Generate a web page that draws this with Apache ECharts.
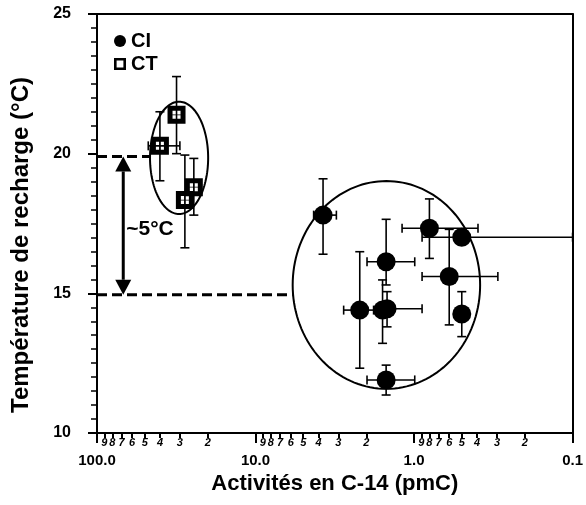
<!DOCTYPE html>
<html>
<head>
<meta charset="utf-8">
<script src="https://cdn.jsdelivr.net/npm/echarts@6/dist/echarts.min.js"></script>
<style>
  html, body { margin: 0; padding: 0; background: #fff; }
  #chart { width: 586px; height: 505px; }
</style>
</head>
<body>
<div id="chart"></div>
<script>
// CI samples: C-14 activity (pmC) and recharge temperature (°C), with uncertainty ranges
const ciActivity     = [3.75, 1.5,  2.2,   1.58,  1.48, 1.5,   0.8,   0.5,  0.6,   0.5];
const ciTemp         = [17.8, 16.13, 14.4, 14.4,  14.45, 11.9, 17.33, 17.01, 15.6, 14.26];
const ciActivityHigh = [4.3,  1.98, 2.78,  null,  1.7,  1.98,  1.19,  0.89, 0.89,  null];
const ciActivityLow  = [3.09, 0.99, 1.8,   null,  0.89, 0.99,  0.395, 0.1,  0.296, null];
const ciTempLow      = [16.4, 15.3, 12.32, 13.21, 13.8, 11.36, 16.25, null, 13.87, 13.45];
const ciTempHigh     = [19.1, 17.65, 16.49, 15.48, 15.06, 12.43, 18.38, null, 17.29, 15.06];

// CT samples
const ctActivity     = [31.5, 40.1, 24.5, 27.9];
const ctTemp         = [21.39, 20.28, 18.8, 18.34];
const ctActivityHigh = [null, 47.5, null, null];
const ctActivityLow  = [null, 30.0, null, null];
const ctTempLow      = [20.0, 19.03, 17.8, 16.63];
const ctTempHigh     = [22.76, 21.5, 19.83, 19.95];

// Sample groupings: [left pmC, right pmC, bottom °C, top °C]
const groupCT = [46.3, 19.9, 17.84, 21.86];
const groupCI = [5.83, 0.383, 11.58, 19.02];

// Recharge temperature level of each group and the gap between them
const levelCT = 19.9;
const levelCI = 14.95;
const gapLabel = '~5°C';
const gapArrowActivity = 68.3;

// Axis ticks
const majorTicks = [100, 10, 1, 0.1];
const minorTicks = [90, 80, 70, 60, 50, 40, 30, 20,
                    9, 8, 7, 6, 5, 4, 3, 2,
                    0.9, 0.8, 0.7, 0.6, 0.5, 0.4, 0.3, 0.2];
const tempTicks = { min: 10, max: 25, step: 5 };

const FONT = '"Liberation Sans", Arial, Helvetica, sans-serif';
const INK = '#000';

const rows = (xs, ys, xh, xl, yl, yh) =>
  xs.map((x, i) => [x, ys[i], xh[i], xl[i], yl[i], yh[i]]);

function errorBars(params, api) {
  const x = api.value(0), y = api.value(1);
  const xh = api.value(2), xl = api.value(3), yl = api.value(4), yh = api.value(5);
  const style = { stroke: INK, lineWidth: 1.6 };
  const cap = 4.5;
  const out = [];
  const seg = (x1, y1, x2, y2) => out.push({ type: 'line', shape: { x1, y1, x2, y2 }, style });
  if (!isNaN(yl) && !isNaN(yh)) {
    const a = api.coord([x, yl]), b = api.coord([x, yh]);
    seg(a[0], a[1], b[0], b[1]);
    seg(a[0] - cap, a[1], a[0] + cap, a[1]);
    seg(b[0] - cap, b[1], b[0] + cap, b[1]);
  }
  if (!isNaN(xl) && !isNaN(xh)) {
    const a = api.coord([xh, y]), b = api.coord([xl, y]);
    seg(a[0], a[1], b[0], b[1]);
    seg(a[0], a[1] - cap, a[0], a[1] + cap);
    seg(b[0], b[1] - cap, b[0], b[1] + cap);
  }
  return { type: 'group', children: out };
}

function groupOutline(params, api) {
  const a = api.coord([api.value(0), api.value(3)]);
  const b = api.coord([api.value(1), api.value(2)]);
  const cx = (a[0] + b[0]) / 2, cy = (a[1] + b[1]) / 2;
  const rx = Math.abs(b[0] - a[0]) / 2, ry = Math.abs(b[1] - a[1]) / 2;
  const pts = [];
  for (let k = 0; k < 144; k++) {
    const t = (k / 144) * Math.PI * 2;
    pts.push([cx + rx * Math.cos(t), cy + ry * Math.sin(t)]);
  }
  return { type: 'polygon', shape: { points: pts },
           style: { fill: 'none', stroke: INK, lineWidth: 2 } };
}

function gapArrow(params, api) {
  const top = api.coord([api.value(0), api.value(1)]);
  const bot = api.coord([api.value(0), api.value(2)]);
  const x = top[0], hw = 8, hh = 15;
  return {
    type: 'group',
    children: [
      { type: 'line', shape: { x1: x, y1: top[1] + hh, x2: x, y2: bot[1] - hh },
        style: { stroke: INK, lineWidth: 3 } },
      { type: 'polygon', shape: { points: [[x, top[1]], [x - hw, top[1] + hh], [x + hw, top[1] + hh]] },
        style: { fill: INK } },
      { type: 'polygon', shape: { points: [[x, bot[1]], [x - hw, bot[1] - hh], [x + hw, bot[1] - hh]] },
        style: { fill: INK } },
      { type: 'text',
        style: { text: gapLabel, x: x + 3, y: (top[1] + bot[1]) / 2 + 4,
                 fill: INK, font: 'bold 21px ' + FONT, align: 'left', verticalAlign: 'middle' } }
    ]
  };
}

// Black square marker with four small windows; hollow square for the legend
const ctMarker = 'path://M0,0H18V18H0Z M5,5V8.6H8.6V5Z M9.4,5V8.6H13V5Z M5,9.4V13H8.6V9.4Z M9.4,9.4V13H13V9.4Z';
const ctLegendIcon = 'path://M0,0H12V12H0Z M2.6,2.6V9.4H9.4V2.6Z';

const leadingDigit = v => String(Math.round(v / Math.pow(10, Math.floor(Math.log10(v) + 1e-9))));

const logAxisBase = { type: 'log', logBase: 10, min: 0.1, max: 100, inverse: true, gridIndex: 0 };

const chart = echarts.init(document.getElementById('chart'), null, { renderer: 'canvas' });
chart.setOption({
  animation: false,
  backgroundColor: '#fff',
  grid: { left: 97, right: 13, top: 14, bottom: 72 },
  legend: {
    orient: 'vertical', left: 114, top: 31, padding: 0, itemGap: 3,
    itemWidth: 12, itemHeight: 12, selectedMode: false,
    textStyle: { fontFamily: FONT, fontWeight: 'bold', fontSize: 20, color: INK },
    data: [{ name: 'CI', icon: 'circle' }, { name: 'CT', icon: ctLegendIcon }]
  },
  xAxis: [
    Object.assign({}, logAxisBase, {
      position: 'bottom',
      name: 'Activités en C-14 (pmC)', nameLocation: 'middle', nameGap: 37,
      nameTextStyle: { fontFamily: FONT, fontWeight: 'bold', fontSize: 22, color: INK },
      axisLine: { lineStyle: { color: INK, width: 2 } },
      axisTick: { customValues: majorTicks, length: 10, lineStyle: { color: INK, width: 2 } },
      axisLabel: { customValues: majorTicks, margin: 20, color: INK, fontFamily: FONT,
                   fontWeight: 'bold', fontSize: 15, formatter: v => Number(v).toFixed(1) },
      splitLine: { show: false }, minorTick: { show: false }
    }),
    Object.assign({}, logAxisBase, {
      position: 'bottom', offset: 0,
      axisLine: { show: false },
      axisTick: { customValues: minorTicks, length: 5, lineStyle: { color: INK, width: 2 } },
      axisLabel: { customValues: minorTicks, margin: 4, color: INK, fontFamily: FONT,
                   fontWeight: 'bold', fontStyle: 'italic', fontSize: 11, formatter: leadingDigit },
      splitLine: { show: false }
    }),
    { type: 'value', position: 'top', gridIndex: 0,
      axisLine: { show: true, lineStyle: { color: INK, width: 2 } },
      axisTick: { show: false }, axisLabel: { show: false }, splitLine: { show: false } }
  ],
  yAxis: [
    { type: 'value', min: tempTicks.min, max: tempTicks.max, interval: tempTicks.step,
      axisLine: { show: true, lineStyle: { color: INK, width: 2 } },
      axisTick: { length: 9, lineStyle: { color: INK, width: 2 } },
      minorTick: { show: true, splitNumber: 10, length: 6, lineStyle: { color: INK, width: 1.5 } },
      axisLabel: { margin: 26, color: INK, fontFamily: FONT, fontWeight: 'bold', fontSize: 16 },
      splitLine: { show: false }, minorSplitLine: { show: false } },
    { type: 'value', position: 'right', min: tempTicks.min, max: tempTicks.max,
      axisLine: { show: true, lineStyle: { color: INK, width: 2 } },
      axisTick: { show: false }, axisLabel: { show: false }, splitLine: { show: false } }
  ],
  graphic: [
    { type: 'text', x: 21, y: 245, rotation: Math.PI / 2,
      style: { text: 'Température de recharge (°C)', fill: INK,
               font: 'bold 24px ' + FONT, align: 'center', verticalAlign: 'middle' } }
  ],
  series: [
    { type: 'custom', name: 'groups', z: 1, silent: true,
      dimensions: ['x0', 'x1', 'y0', 'y1'], encode: { x: [0, 1], y: [2, 3] },
      renderItem: groupOutline, data: [groupCT, groupCI] },
    { type: 'line', name: 'levelCT', z: 1, silent: true, symbol: 'none',
      lineStyle: { color: INK, width: 3, type: [10, 5] },
      data: [[100, levelCT], [groupCT[0], levelCT]] },
    { type: 'line', name: 'levelCI', z: 1, silent: true, symbol: 'none',
      lineStyle: { color: INK, width: 3, type: [10, 5] },
      data: [[100, levelCI], [groupCI[0], levelCI]] },
    { type: 'custom', name: 'gap', z: 2, silent: true,
      dimensions: ['x', 'y0', 'y1'], encode: { x: 0, y: [1, 2] },
      renderItem: gapArrow, data: [[gapArrowActivity, levelCT, levelCI]] },
    { type: 'custom', name: 'CI-err', z: 2, silent: true,
      dimensions: ['x', 'y', 'xh', 'xl', 'yl', 'yh'], encode: { x: 0, y: 1 },
      renderItem: errorBars,
      data: rows(ciActivity, ciTemp, ciActivityHigh, ciActivityLow, ciTempLow, ciTempHigh) },
    { type: 'custom', name: 'CT-err', z: 2, silent: true,
      dimensions: ['x', 'y', 'xh', 'xl', 'yl', 'yh'], encode: { x: 0, y: 1 },
      renderItem: errorBars,
      data: rows(ctActivity, ctTemp, ctActivityHigh, ctActivityLow, ctTempLow, ctTempHigh) },
    { type: 'scatter', name: 'CI', z: 4, symbol: 'circle', symbolSize: 19,
      itemStyle: { color: INK, opacity: 1 },
      data: ciActivity.map((x, i) => [x, ciTemp[i]]) },
    { type: 'scatter', name: 'CT', z: 4, symbol: ctMarker, symbolSize: 18,
      itemStyle: { color: INK, opacity: 1 },
      data: ctActivity.map((x, i) => [x, ctTemp[i]]) }
  ]
});
</script>
</body>
</html>
